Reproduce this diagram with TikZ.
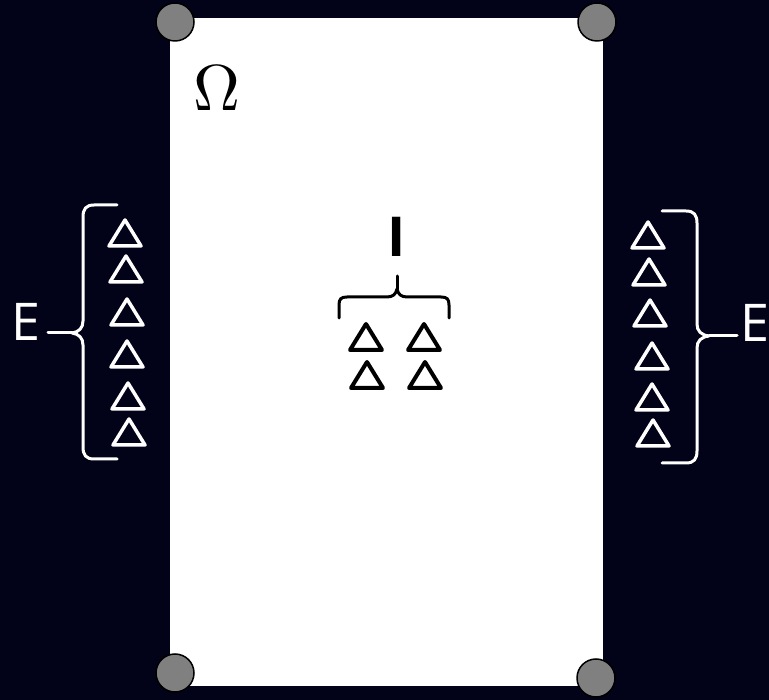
\documentclass[tikz,border=0pt]{standalone}
\usepackage{fontspec}
\setsansfont{Open Sans}
\definecolor{bgnavy}{RGB}{2,2,24}
\definecolor{dotgray}{RGB}{128,128,128}
\tikzset{
  tri/.style={line width=3.5pt,line join=round},
  bracket/.style={line width=3pt,line cap=round,line join=round},
  corner/.style={circle,fill=dotgray,draw=black,line width=1.5pt,minimum size=38pt,inner sep=0pt},
  lbl/.style={font=\sffamily\fontsize{52}{52}\selectfont,inner sep=0pt}
}
\begin{document}
\begin{tikzpicture}[x=1pt,y=-1pt]
                    \useasboundingbox (0,0) rectangle (769,700);
                    \fill[bgnavy] (0,0) rectangle (769,700);
                    \fill[white] (170,18) rectangle (603,686);
                    \node[corner] (tl) at (175,22) {};
                    \node[corner] (tr) at (597,22) {};
                    \node[corner] (bl) at (175,673) {};
                    \node[corner] (br) at (596,678) {};
                    \node[scale=6.5] (omega) at (217,88) {$\Omega$};
                    \node[lbl,text=white] (eleft) at (26,322) {E};
                    \node[lbl,text=white] (eright) at (755,323) {E};
                    \node[lbl,font=\sffamily\bfseries\fontsize{55}{55}\selectfont] (inner) at (397,237) {I};
                    % braces
                    \coordinate (ltip) at (72,333);
                    \coordinate (lend) at (48,333);
                    \coordinate (rtip) at (709,336);
                    \coordinate (rend) at (737,336);
                    \coordinate (mtip) at (397,289);
                    \draw[bracket,white] (117,205) -- (94,205) .. controls (86,205) and (83,209) .. (83,217) -- (83,321) .. controls (83,328) and (79,332) .. (ltip) .. controls (79,334) and (83,338) .. (83,345) -- (83,447) .. controls (83,455) and (86,459) .. (94,459) -- (117,459);
                    \draw[bracket,white] (ltip) -- (lend);
                    \draw[bracket,white] (662,211) -- (686,211) .. controls (694,211) and (697,215) .. (697,223) -- (697,324) .. controls (697,331) and (701,335) .. (rtip) .. controls (701,337) and (697,341) .. (697,348) -- (697,451) .. controls (697,459) and (694,463) .. (686,463) -- (662,463);
                    \draw[bracket,white] (rtip) -- (rend);
                    \draw[bracket] (339,318) -- (339,305) .. controls (339,299) and (341,297) .. (347,297) -- (387,297) .. controls (393,297) and (396,294) .. (mtip) .. controls (398,294) and (401,297) .. (407,297) -- (441,297) .. controls (447,297) and (449,299) .. (449,305) -- (449,318);
                    \draw[bracket] (mtip) -- (inner.south |- 0,276);
                    % triangles
                    \foreach \x/\y in {125/233,126/269,127/312,127/354,128/396,129/432}
                        \draw[tri,white] (\x,\y-13) -- (\x+16,\y+13) -- (\x-16,\y+13) -- cycle;
                    \foreach \x/\y in {648/235,649/272,650/313,652/356,652/397,653/433}
                        \draw[tri,white] (\x,\y-13) -- (\x+16,\y+13) -- (\x-16,\y+13) -- cycle;
                    \foreach \x/\y in {366/337,424/337,367/375,425/375}
                        \draw[tri,line width=4pt] (\x,\y-13) -- (\x+16,\y+13) -- (\x-16,\y+13) -- cycle;
                \end{tikzpicture}
\end{document}
